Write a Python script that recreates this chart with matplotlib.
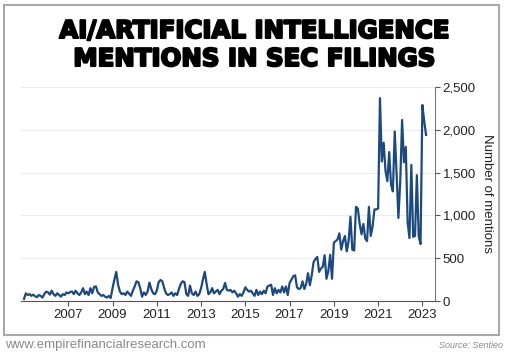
import matplotlib

matplotlib.use("Agg")
import matplotlib.pyplot as plt
import matplotlib.patheffects as pe
import numpy as np
from matplotlib.patches import Rectangle
from matplotlib.ticker import FuncFormatter

# monthly AI mentions, Jan 2005 .. Mar 2023
mentions_by_year = {
    2005: [25, 90, 70, 80, 60, 75, 55, 45, 70, 60, 40, 80],
    2006: [110, 100, 75, 120, 80, 60, 90, 70, 50, 80, 70, 100],
    2007: [90, 105, 110, 80, 120, 90, 70, 100, 150, 80, 110, 70],
    2008: [150, 90, 165, 170, 100, 80, 60, 70, 50, 40, 60, 35],
    2009: [150, 250, 340, 190, 110, 80, 90, 70, 110, 85, 60, 120],
    2010: [170, 230, 220, 150, 50, 100, 70, 110, 215, 140, 90, 80],
    2011: [120, 220, 245, 230, 150, 90, 70, 80, 100, 60, 90, 70],
    2012: [140, 200, 230, 220, 80, 60, 180, 90, 70, 110, 60, 80],
    2013: [150, 250, 340, 200, 80, 100, 150, 90, 110, 130, 80, 120],
    2014: [140, 210, 130, 120, 130, 100, 120, 90, 50, 80, 60, 100],
    2015: [160, 130, 110, 120, 90, 60, 130, 70, 110, 80, 120, 90],
    2016: [170, 180, 190, 70, 150, 90, 130, 100, 170, 100, 170, 70],
    2017: [210, 250, 290, 300, 160, 140, 150, 230, 140, 200, 325, 185],
    2018: [300, 455, 490, 515, 340, 380, 400, 535, 260, 350, 540, 260],
    2019: [680, 700, 720, 790, 600, 700, 760, 580, 700, 985, 600, 590],
    2020: [1100, 1080, 900, 780, 900, 730, 700, 1100, 760, 870, 1070, 1070],
    2021: [1080, 2370, 1630, 1850, 1520, 1400, 1740, 1360, 1280, 1980, 1500, 970],
    2022: [1400, 2115, 1620, 1800, 920, 735, 1590, 750, 760, 1470, 760, 665],
    2023: [2290, 2100, 1940],
}
year_ticks = [2007, 2009, 2011, 2013, 2015, 2017, 2019, 2021, 2023]
value_ticks = [0, 500, 1000, 1500, 2000, 2500]

values = []
for year, months in mentions_by_year.items():
    values.extend(months)
dates = 2005 + np.arange(len(values)) / 12.0

W, H = 510, 355
fig = plt.figure(figsize=(W / 100, H / 100), dpi=100)
fig.patch.set_facecolor("white")

# outer frame
fig.add_artist(Rectangle((4 / W, 1 - 335 / H), 495 / W, 330 / H, transform=fig.transFigure,
                         fill=False, edgecolor="#a8a8a8", linewidth=1.5))

title_fx = [pe.withStroke(linewidth=1.5, foreground="black")]
fig.text(254 / W, 1 - 31 / H, "AI/ARTIFICIAL INTELLIGENCE", ha="center", va="center",
         fontsize=17.6, fontweight="bold", family="DejaVu Sans", color="black", path_effects=title_fx)
fig.text(254 / W, 1 - 59 / H, "MENTIONS IN SEC FILINGS", ha="center", va="center",
         fontsize=17.6, fontweight="bold", family="DejaVu Sans", color="black", path_effects=title_fx)

ax = fig.add_axes([20.7 / W, 1 - 301 / H, (435 - 20.7) / W, 214 / H])
ax.plot(dates, values, color="#1c4a7e", linewidth=1.6, solid_joinstyle="round")
ax.set_xlim(2004.85, 2023.57)
ax.set_ylim(0, 2500)

ax.yaxis.tick_right()
ax.yaxis.set_label_position("right")
ax.set_yticks(value_ticks)
ax.yaxis.set_major_formatter(FuncFormatter(lambda v, _: f"{v:,.0f}"))
ax.set_xticks(year_ticks)
ax.set_xticklabels([str(y) for y in year_ticks])
ax.grid(axis="y", color="#ececec", linewidth=0.8)
ax.set_axisbelow(True)

for side in ["left", "top"]:
    ax.spines[side].set_visible(False)
ax.spines["right"].set_color("#777777")
ax.spines["bottom"].set_color("#555555")
ax.tick_params(axis="both", colors="#555555", labelcolor="#222222", labelsize=9.5, length=3.5, width=0.8, pad=2)
for lab in ax.get_xticklabels() + ax.get_yticklabels():
    lab.set_family("Liberation Sans")
ax.set_ylabel("Number of mentions", rotation=-90, labelpad=12, fontsize=9.5, family="Liberation Sans", color="#222222")

fig.text(5 / W, 1 - 345 / H, "www.empirefinancialresearch.com", ha="left", va="center",
         fontsize=9.5, family="Liberation Sans", color="#8a8a8a")
fig.text(503 / W, 1 - 345 / H, "Source: Sentieo", ha="right", va="center",
         fontsize=6.5, style="italic", family="Liberation Sans", color="#8a8a8a")

fig.savefig("out.png", dpi=100)
